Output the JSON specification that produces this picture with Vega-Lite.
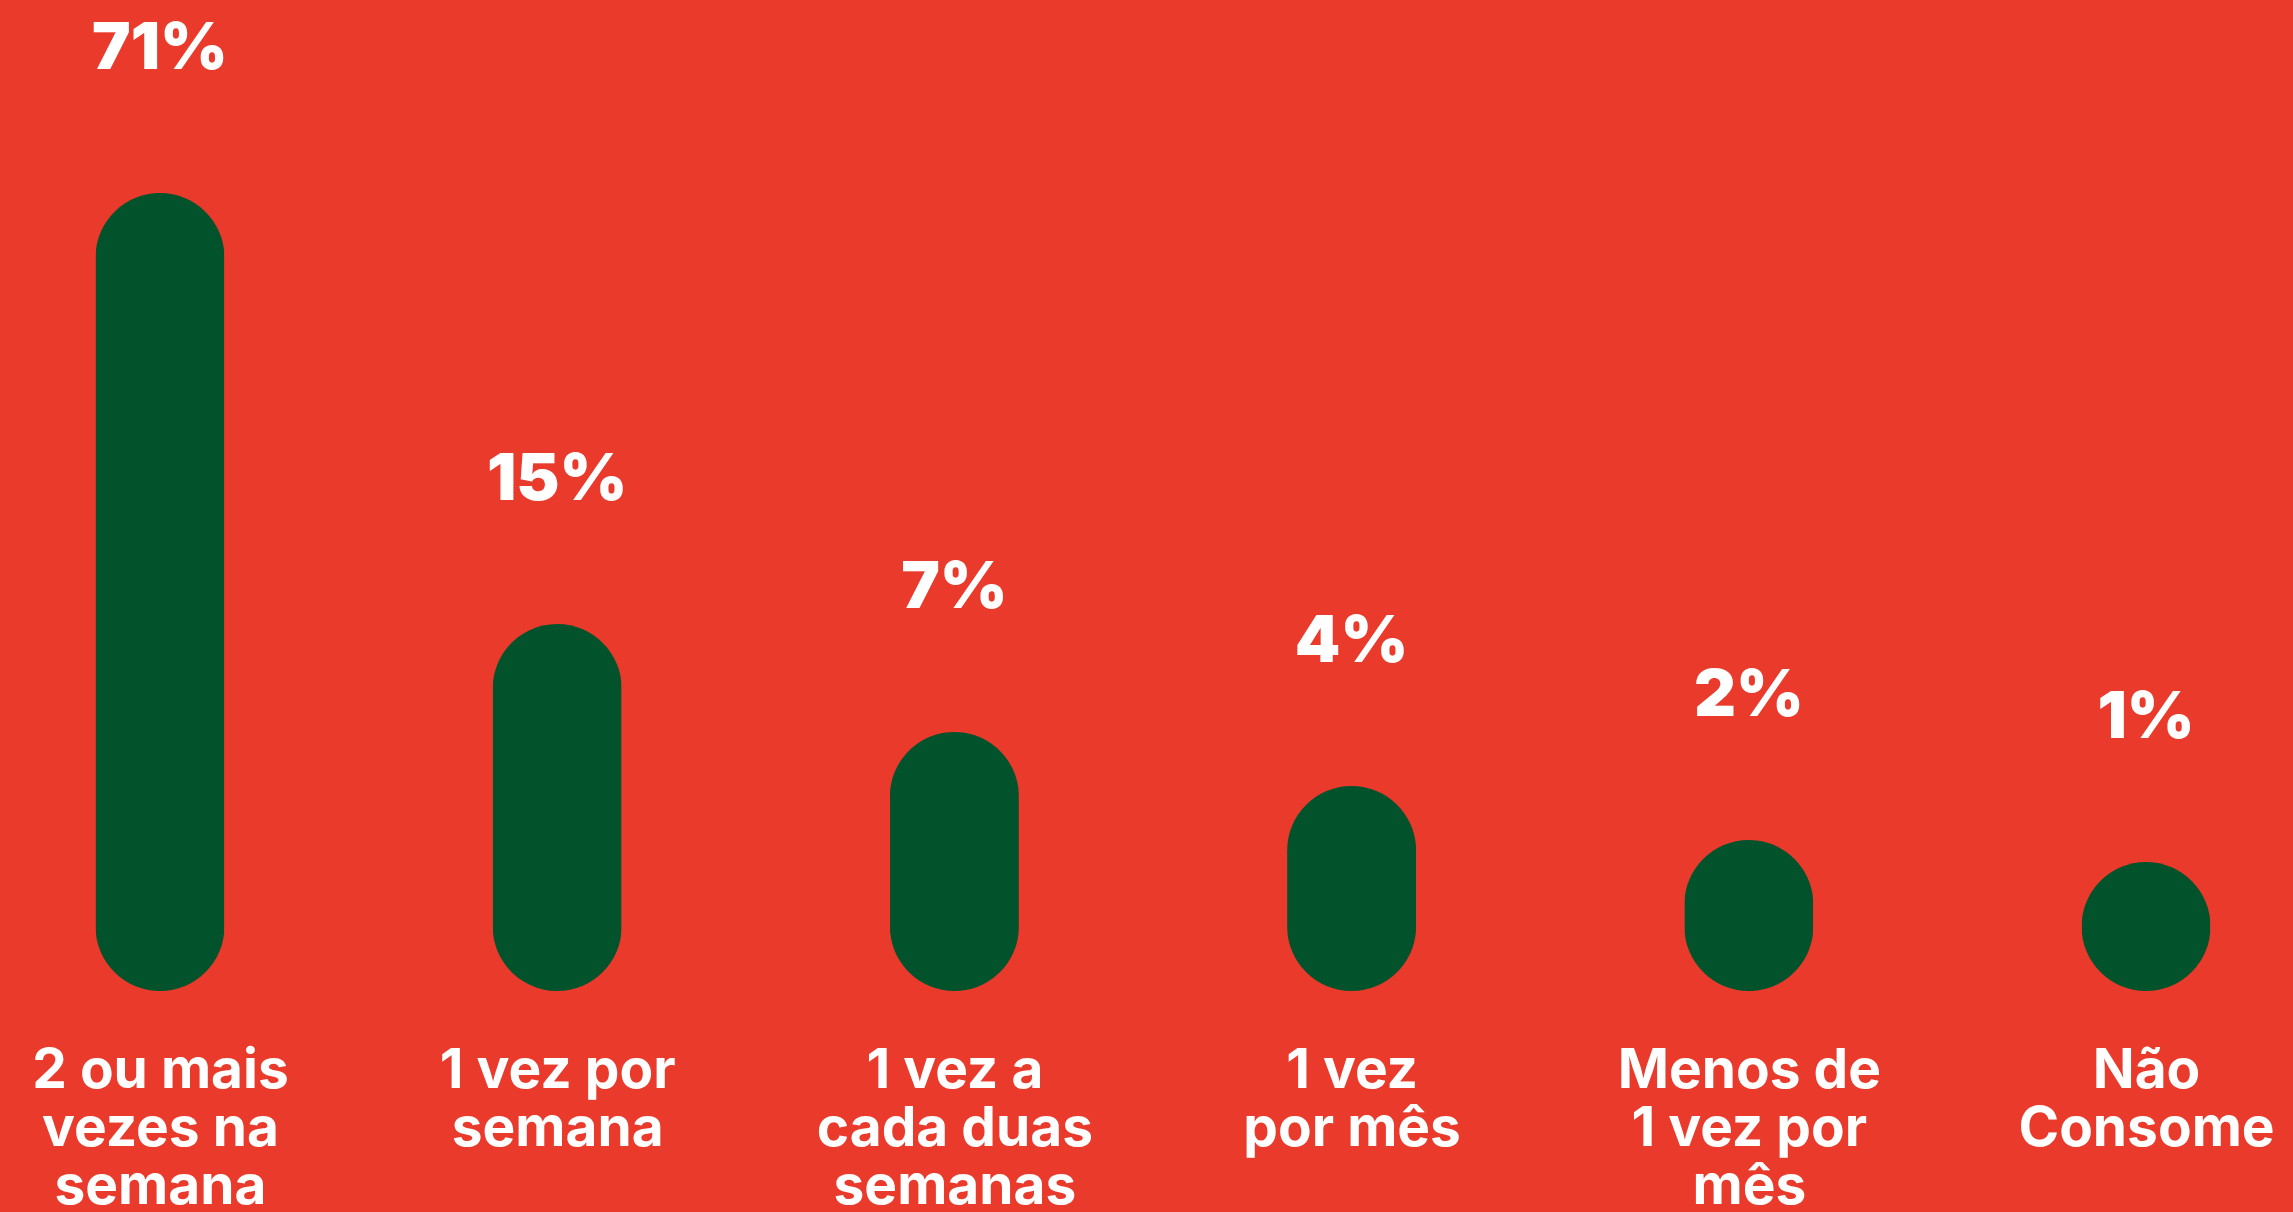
{
  "$schema": "https://vega.github.io/schema/vega-lite/v6.json",
  "width": 2280,
  "height": 991,
  "padding": {"left": 13, "top": 0, "right": 0, "bottom": 221},
  "autosize": {"type": "none"},
  "background": "#E93A2B",
  "config": {"view": {"stroke": null}, "font": "Inter"},
  "data": {
    "values": [
      {"cat": "2 ou mais|vezes na|semana", "pct": 0.71},
      {"cat": "1 vez por|semana", "pct": 0.15},
      {"cat": "1 vez a|cada duas|semanas", "pct": 0.07},
      {"cat": "1 vez|por mês", "pct": 0.04},
      {"cat": "Menos de|1 vez por|mês", "pct": 0.02},
      {"cat": "Não|Consome", "pct": 0.01}
    ]
  },
  "encoding": {
    "x": {
      "field": "cat",
      "type": "nominal",
      "sort": null,
      "scale": {"type": "point", "padding": 0.37},
      "axis": {
        "title": null,
        "domain": false,
        "ticks": false,
        "tickSize": 0,
        "grid": false,
        "labelAngle": 0,
        "labelFont": "Inter",
        "labelFontSize": 55,
        "labelFontWeight": 700,
        "labelColor": "#FFFFFF",
        "labelPadding": 96,
        "labelBaseline": "alphabetic",
        "labelAlign": "center",
        "labelLineHeight": 58,
        "labelExpr": "split(datum.label, '|')",
        "labelLimit": 1000,
        "labelOverlap": false,
        "labelFlush": false
      }
    },
    "y": {
      "field": "pct",
      "type": "quantitative",
      "scale": {
        "type": "linear",
        "domain": [0, 0.01, 0.02, 0.04, 0.07, 0.15, 0.71],
        "range": [991, 862, 840, 786, 732, 624, 193],
        "zero": false,
        "nice": false
      },
      "axis": null
    }
  },
  "layer": [
    {
      "mark": {"type": "bar", "color": "#02532C", "size": 129, "cornerRadius": 64.5}
    },
    {
      "mark": {
        "type": "text",
        "color": "#FFFFFF",
        "font": "Inter",
        "fontSize": 65,
        "fontWeight": 900,
        "letterSpacing": -3,
        "baseline": "middle",
        "align": "center",
        "dy": -144
      },
      "encoding": {
        "text": {"field": "pct", "type": "quantitative", "format": ".0%"}
      }
    }
  ]
}
